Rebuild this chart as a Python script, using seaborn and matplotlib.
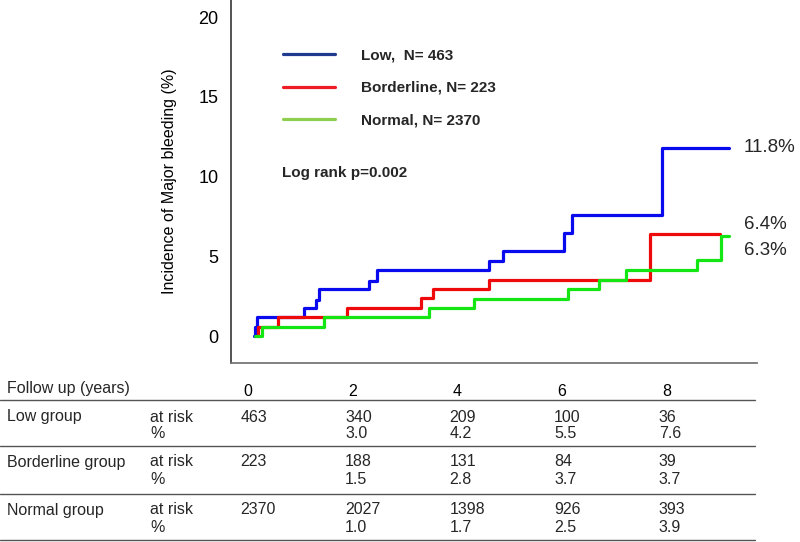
import pandas as pd
import seaborn as sns
import matplotlib.pyplot as plt
import matplotlib.transforms as mtransforms
from matplotlib.lines import Line2D

sns.set_theme(style="white")
plt.rcParams['font.family'] = ['Liberation Sans', 'DejaVu Sans']

# cumulative incidence curves (years, %)
low_t = [0.11, 0.12, 0.17, 1.07, 1.29, 1.35, 2.30, 2.46, 4.61, 4.87, 6.03, 6.19, 7.91, 9.20]
low_v = [0.0, 0.57, 1.17, 1.76, 2.29, 2.94, 3.47, 4.16, 4.72, 5.31, 6.44, 7.60, 11.8, 11.8]
border_t = [0.16, 0.18, 0.57, 1.89, 3.31, 3.53, 4.60, 7.69, 9.03]
border_v = [0.0, 0.57, 1.17, 1.76, 2.39, 2.94, 3.51, 6.4, 6.4]
normal_t = [0.13, 0.26, 1.45, 3.45, 4.31, 6.11, 6.70, 7.23, 8.58, 9.04, 9.20]
normal_v = [0.0, 0.57, 1.17, 1.76, 2.35, 2.94, 3.51, 4.16, 4.75, 6.3, 6.3]

groups = ["Low", "Borderline", "Normal"]
legend_labels = ["Low,  N= 463", "Borderline, N= 223", "Normal, N= 2370"]
end_labels = ["11.8%", "6.4%", "6.3%"]
end_values = [11.8, 6.4, 6.3]

# numbers at risk table
years = [0, 2, 4, 6, 8]
table_groups = ["Low group", "Borderline group", "Normal group"]
low_risk = ["463", "340", "209", "100", "36"]
low_pct = ["", "3.0", "4.2", "5.5", "7.6"]
border_risk = ["223", "188", "131", "84", "39"]
border_pct = ["", "1.5", "2.8", "3.7", "3.7"]
normal_risk = ["2370", "2027", "1398", "926", "393"]
normal_pct = ["", "1.0", "1.7", "2.5", "3.9"]

curve_colors = {"Low": "#0a0aee", "Borderline": "#ee0a0a", "Normal": "#14e614"}
legend_colors = ["#1f3a8f", "#ee1c24", "#8fcf50"]

df = pd.concat([
    pd.DataFrame({"time": low_t, "incidence": low_v, "group": "Low"}),
    pd.DataFrame({"time": border_t, "incidence": border_v, "group": "Borderline"}),
    pd.DataFrame({"time": normal_t, "incidence": normal_v, "group": "Normal"}),
])

fig = plt.figure(figsize=(8, 5.42), dpi=100)
ax = fig.add_axes([231 / 800, 179 / 542, 526 / 800, 363 / 542])

sns.lineplot(data=df, x="time", y="incidence", hue="group", hue_order=groups,
             palette=curve_colors, estimator=None, sort=False,
             drawstyle="steps-post", linewidth=2.3, legend=False, ax=ax)

ax.set_xlim(-0.33, 9.73)
ax.set_ylim(-1.69, 21.07)
ax.set_yticks([0, 5, 10, 15, 20])
ax.set_xticks(years)
ax.tick_params(axis="y", length=0, pad=9, labelsize=13, labelcolor="black")
ax.tick_params(axis="x", length=0, pad=15, labelsize=11.5, labelcolor="black")
ax.set_xlabel("")
ax.set_ylabel("Incidence of Major bleeding (%)", fontsize=11.5, color="black")
ax.yaxis.set_label_coords(-0.103, 0.5)
for s in ["top", "right"]:
    ax.spines[s].set_visible(False)
ax.spines["left"].set_color("#444444")
ax.spines["bottom"].set_color("#777777")
ax.spines["left"].set_linewidth(1.3)
ax.spines["bottom"].set_linewidth(1.3)

handles = [Line2D([], [], color=c, lw=2.3) for c in legend_colors]
ax.legend(handles, legend_labels, loc="upper left", bbox_to_anchor=(0.099, 0.866),
          frameon=False, handlelength=3.4, handletextpad=1.7, labelspacing=1.2,
          borderpad=0, borderaxespad=0, prop={"weight": "bold", "size": 11})

ax.text(0.097, 0.523, "Log rank p=0.002", transform=ax.transAxes, fontsize=11,
        fontweight="bold", va="center", ha="left")

for lab, v, dy in zip(end_labels, end_values, [0, 7, -11]):
    ax.annotate(lab, xy=(9.48, v), xytext=(0, dy), textcoords="offset points",
                fontsize=13.5, va="center", ha="left", annotation_clip=False)

# table below the plot
fig.text(7 / 800, 1 - 389 / 542, "Follow up (years)", fontsize=11.5, va="center")
trans = mtransforms.blended_transform_factory(ax.transData, fig.transFigure)
rows = [(low_risk, low_pct, 417, 433), (border_risk, border_pct, 462, 480),
        (normal_risk, normal_pct, 510, 527)]
for name, (risk, pct, y1, y2) in zip(table_groups, rows):
    fig.text(7 / 800, 1 - y1 / 542, name, fontsize=11.5, va="center")
    fig.text(150 / 800, 1 - y1 / 542, "at risk", fontsize=11.5, va="center")
    fig.text(150 / 800, 1 - y2 / 542, "%", fontsize=11.5, va="center")
    for yr, r, p in zip(years, risk, pct):
        ax.text(yr - 0.15, 1 - y1 / 542, r, transform=trans, fontsize=11.5,
                va="center", ha="left", clip_on=False)
        ax.text(yr - 0.15, 1 - y2 / 542, p, transform=trans, fontsize=11.5,
                va="center", ha="left", clip_on=False)

for yl in [400, 446, 494, 540]:
    fig.add_artist(Line2D([0, 755 / 800], [1 - yl / 542, 1 - yl / 542],
                          color="#555555", lw=1))

fig.savefig("out.png", dpi=100)
